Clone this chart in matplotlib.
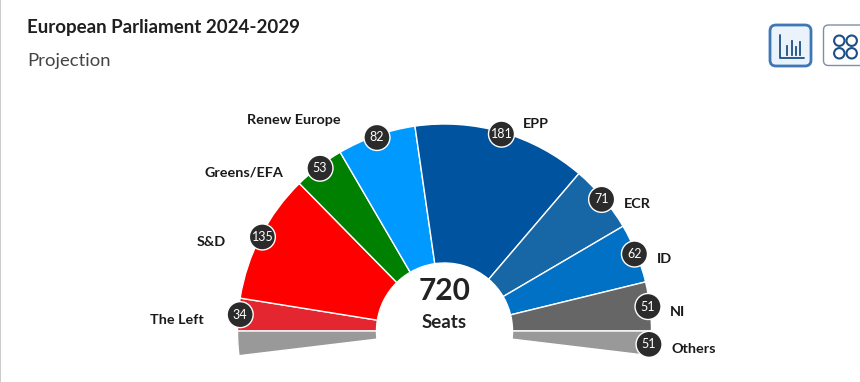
import matplotlib
matplotlib.use("Agg")
import matplotlib.pyplot as plt
from matplotlib.patches import Wedge, Circle, FancyBboxPatch, Rectangle
import numpy as np

groups = ["The Left", "S&D", "Greens/EFA", "Renew Europe", "EPP", "ECR", "ID", "NI", "Others"]
seats = [34, 135, 53, 82, 181, 71, 62, 51, 51]
colors = ["#e3262f", "#ff0000", "#008000", "#0099ff", "#00539f", "#1766a6", "#0071c5", "#666666", "#999999"]
total_seats = 720
title = "European Parliament 2024-2029"
subtitle = "Projection"
center_label = "Seats"

# label offset from its bubble, in pixels (x right, y up)
label_offset = {"The Left": (-36, -5), "S&D": (-37, -5), "Greens/EFA": (-37, -4), "Renew Europe": (-36, 17),
                "EPP": (21, 10), "ECR": (22, -5), "ID": (22, -5), "NI": (22, -5), "Others": (22, -5)}

W, H = 860, 382
plt.rcParams["font.family"] = ["Lato", "DejaVu Sans"]
fig = plt.figure(figsize=(W / 100, H / 100), dpi=100, facecolor="white")
ax = fig.add_axes([0, 0, 1, 1])
ax.set_xlim(0, W)
ax.set_ylim(0, H)
ax.axis("off")

cx, cy = 444.5, H - 331
R, r = 207, 68
per_seat = 180.0 / (total_seats - seats[-1])
others_half = seats[-1] * per_seat / 2

def y(py):
    return H - py

def wedge(a1, a2, color):
    ax.add_patch(Wedge((cx, cy), R, a1, a2, width=R - r, facecolor=color, edgecolor="white", linewidth=1.0, zorder=2))

bubbles = {}
angle = 180.0
for name, n, c in zip(groups[:-1], seats[:-1], colors[:-1]):
    next_angle = angle - n * per_seat
    wedge(next_angle, angle, c)
    mid = np.radians((angle + next_angle) / 2)
    bubbles[name] = (cx + 205 * np.cos(mid), cy + 205 * np.sin(mid))
    angle = next_angle
wedge(-others_half, 0, colors[-1])
wedge(180, 180 + others_half, colors[-1])
mid = np.radians(-others_half / 2 - 0.3)
bubbles["Others"] = (cx + 205 * np.cos(mid), cy + 205 * np.sin(mid))

for name, n in zip(groups, seats):
    bx, by = bubbles[name]
    ax.add_patch(Circle((bx, by), 13, facecolor="#2b2b2b", edgecolor="white", linewidth=1.0, zorder=4))
    ax.text(bx, by, str(n), color="white", fontsize=9, ha="center", va="center", zorder=5)
    dx, dy = label_offset[name]
    ha = "right" if dx < 0 else "left"
    ax.text(bx + dx, by + dy, name, color="#1a1a1a", fontsize=10.4, fontweight="bold", ha=ha, va="center", zorder=5)

ax.text(cx, y(291), str(total_seats), color="#222222", fontsize=21.5, fontweight="bold", ha="center", va="center")
ax.text(cx, y(323), center_label, color="#222222", fontsize=13.5, fontweight="bold", ha="center", va="center")

ax.text(27, y(28), title, color="#1f1f1f", fontsize=13.5, fontweight="bold", ha="left", va="center")
ax.text(27, y(61), subtitle, color="#444444", fontsize=13.3, ha="left", va="center")

# left page border
ax.add_patch(Rectangle((0, 0), 1.2, H, facecolor="#cccccc", edgecolor="none"))

# icon buttons
navy = "#1c4f86"
ax.add_patch(FancyBboxPatch((770, y(66)), 41, 41, boxstyle="round,pad=0,rounding_size=6",
                            facecolor="#eaf3fb", edgecolor="#3f76b5", linewidth=2.0))
ax.plot([780, 780, 804], [y(35), y(58), y(58)], color=navy, lw=1.3, solid_capstyle="round")
for bar_x, bar_top in zip([787, 792, 796, 800], [46, 41, 47, 42]):
    ax.plot([bar_x, bar_x], [y(55), y(bar_top)], color=navy, lw=1.3)
ax.add_patch(FancyBboxPatch((823.5, y(65.5)), 60, 40.5, boxstyle="round,pad=0,rounding_size=5",
                            facecolor="white", edgecolor="#7d8fa5", linewidth=1.0, clip_on=True))
for px, py in [(839.3, 40.7), (851.7, 40.7), (839.3, 53.3), (851.7, 53.3)]:
    ax.add_patch(Circle((px, y(py)), 5.2, facecolor="none", edgecolor=navy, linewidth=1.5))

fig.savefig("out.png", dpi=100, facecolor="white")
